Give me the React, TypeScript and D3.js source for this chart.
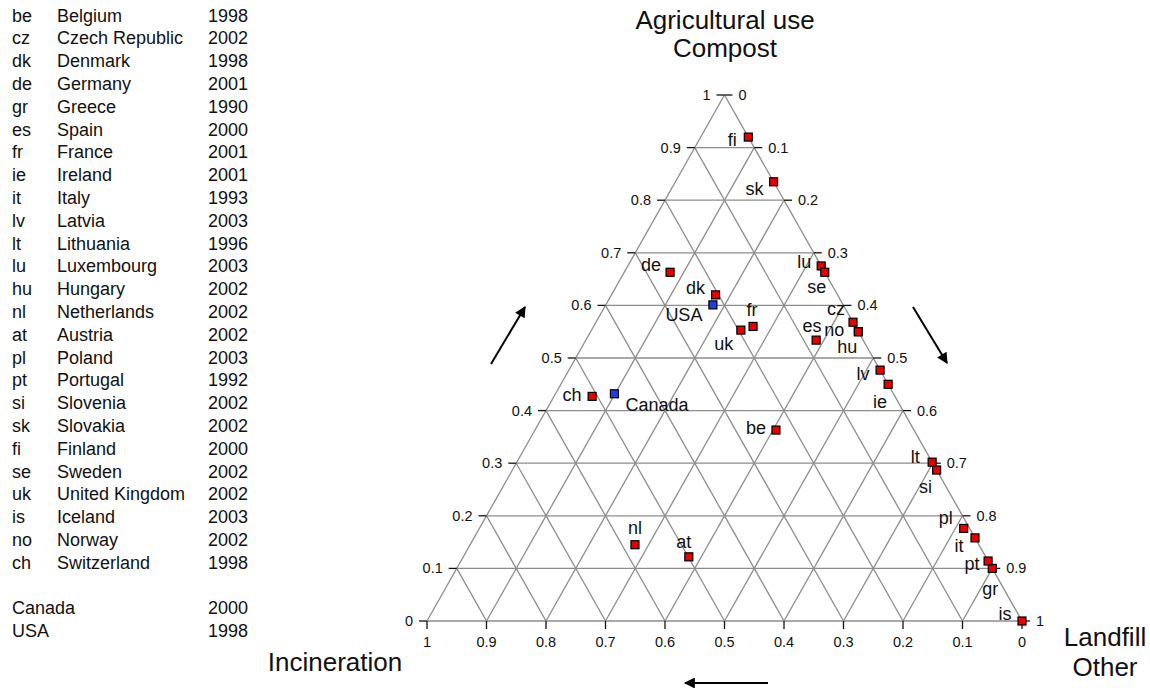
import React from 'react';
import * as d3 from 'd3';

// countries listed in the left table, same order as the reference
const codes = ['be', 'cz', 'dk', 'de', 'gr', 'es', 'fr', 'ie', 'it', 'lv', 'lt', 'lu', 'hu', 'nl', 'at', 'pl', 'pt', 'si', 'sk', 'fi', 'se', 'uk', 'is', 'no', 'ch'];
const names = ['Belgium', 'Czech Republic', 'Denmark', 'Germany', 'Greece', 'Spain', 'France', 'Ireland', 'Italy', 'Latvia', 'Lithuania', 'Luxembourg', 'Hungary', 'Netherlands', 'Austria', 'Poland', 'Portugal', 'Slovenia', 'Slovakia', 'Finland', 'Sweden', 'United Kingdom', 'Iceland', 'Norway', 'Switzerland'];
const years = [1998, 2002, 1998, 2001, 1990, 2000, 2001, 2001, 1993, 2003, 1996, 2003, 2002, 2002, 2002, 2003, 1992, 2002, 2002, 2000, 2002, 2002, 2003, 2002, 1998];

// shares: compost (top), landfill (right), incineration (left) = 1 - both
const compost = [0.363, 0.568, 0.62, 0.663, 0.1, 0.534, 0.56, 0.45, 0.158, 0.477, 0.302, 0.675, 0.55, 0.145, 0.122, 0.176, 0.114, 0.287, 0.835, 0.92, 0.663, 0.553, 0, 0.55, 0.427];
const landfill = [0.405, 0.432, 0.175, 0.077, 0.9, 0.387, 0.268, 0.55, 0.842, 0.523, 0.698, 0.325, 0.45, 0.277, 0.379, 0.814, 0.886, 0.713, 0.165, 0.08, 0.337, 0.251, 1, 0.45, 0.064];

const otherNames = ['Canada', 'USA'];
const otherYears = [2000, 1998];
const otherCompost = [0.432, 0.601];
const otherLandfill = [0.099, 0.18];

const tickValues = d3.range(0, 11).map(k => k / 10);

// label placement next to each square [dx, dy]
const labelPos: Record<string, number[]> = {
  be: [-20, 4], cz: [-17, -7], dk: [-20, -1], de: [-19, -1], gr: [-2, 27], es: [-4, -8],
  fr: [-1, -10], ie: [-8, 24], it: [-16, 14], lv: [-17, 10], lt: [-17, 1], lu: [-17, 2],
  hu: [-11, 21], nl: [0, -11], at: [-5, -9], pl: [-18, -4], pt: [-16, 9], si: [-11, 23],
  sk: [-19, 13], fi: [-16, 9], se: [-8, 21], uk: [-17, 20], is: [-17, -1], no: [-24, 4],
  ch: [-20, 5], USA: [-29, 16]
};

const font = '"Liberation Sans", Arial, Helvetica, sans-serif';

export default function App() {
  const width = 1150;
  const height = 688;

  // ternary projection through two linear scales
  const xScale = d3.scaleLinear().domain([0, 1]).range([427, 1022]);
  const yScale = d3.scaleLinear().domain([0, 1]).range([621, 95]);
  const px = (c: number, l: number) => xScale(l + c / 2);
  const py = (c: number) => yScale(c);

  const fmt = (v: number) => (v === 0 ? '0' : v === 1 ? '1' : d3.format('.1f')(v));
  const gridColor = '#8c8c8c';
  const tickFont = 14.5;

  const grid: JSX.Element[] = [];
  tickValues.forEach((k, idx) => {
    // constant compost
    grid.push(<line key={'c' + idx} x1={px(k, 0)} y1={py(k)} x2={px(k, 1 - k)} y2={py(k)} stroke={gridColor} strokeWidth={1.3} />);
    // constant landfill
    grid.push(<line key={'l' + idx} x1={px(0, k)} y1={py(0)} x2={px(1 - k, k)} y2={py(1 - k)} stroke={gridColor} strokeWidth={1.3} />);
    // constant incineration
    grid.push(<line key={'i' + idx} x1={px(0, 1 - k)} y1={py(0)} x2={px(1 - k, 0)} y2={py(1 - k)} stroke={gridColor} strokeWidth={1.3} />);
  });

  const ticks: JSX.Element[] = [];
  tickValues.forEach((k, idx) => {
    const lx = px(k, 0);
    const rx = px(k, 1 - k);
    const y = py(k);
    ticks.push(<line key={'lt' + idx} x1={lx - 8} x2={lx} y1={y} y2={y} stroke="#111" strokeWidth={1.3} />);
    ticks.push(<text key={'ll' + idx} x={lx - 14} y={y} dy="0.35em" textAnchor="end" fontSize={tickFont}>{fmt(k)}</text>);
    ticks.push(<line key={'rt' + idx} x1={rx} x2={rx + 8} y1={y} y2={y} stroke="#111" strokeWidth={1.3} />);
    ticks.push(<text key={'rl' + idx} x={rx + 14} y={y} dy="0.35em" textAnchor="start" fontSize={tickFont}>{fmt(1 - k)}</text>);
    const bx = px(0, k);
    ticks.push(<line key={'bt' + idx} x1={bx} x2={bx} y1={py(0)} y2={py(0) + 8} stroke="#111" strokeWidth={1.3} />);
    ticks.push(<text key={'bl' + idx} x={bx} y={py(0) + 26} textAnchor="middle" fontSize={tickFont}>{fmt(1 - k)}</text>);
  });

  const sq = 8;
  const rowY = d3.scaleLinear().domain([0, 1]).range([21.5, 21.5 + 22.8]);

  return (
    <svg width={width} height={height} style={{ position: 'absolute', left: 0, top: 0, background: '#fff' }} fontFamily={font}>
      <defs>
        <marker id="ah" viewBox="0 0 10 10" refX="9" refY="5" markerWidth="13" markerHeight="11" markerUnits="userSpaceOnUse" orient="auto">
          <path d="M0,0 L10,5 L0,10 z" fill="#000" />
        </marker>
      </defs>

      {/* table on the left */}
      <g fontSize={18} fill="#111">
        {codes.map((c, i) => (
          <g key={c}>
            <text x={12} y={rowY(i)}>{c}</text>
            <text x={57} y={rowY(i)}>{names[i]}</text>
            <text x={248} y={rowY(i)} textAnchor="end">{years[i]}</text>
          </g>
        ))}
        {otherNames.map((n, i) => (
          <g key={n}>
            <text x={12} y={rowY(codes.length + 1 + i)}>{n}</text>
            <text x={248} y={rowY(codes.length + 1 + i)} textAnchor="end">{otherYears[i]}</text>
          </g>
        ))}
      </g>

      {/* titles */}
      <g fontSize={26} fill="#111" textAnchor="middle">
        <text x={725} y={29}>Agricultural use</text>
        <text x={725} y={57}>Compost</text>
        <text x={335} y={671}>Incineration</text>
        <text x={1105} y={646}>Landfill</text>
        <text x={1105} y={676}>Other</text>
      </g>

      {grid}
      <g fill="#111">{ticks}</g>

      {/* direction arrows */}
      <line x1={491} y1={364} x2={525} y2={307} stroke="#000" strokeWidth={2} markerEnd="url(#ah)" />
      <line x1={913} y1={307} x2={947} y2={363} stroke="#000" strokeWidth={2} markerEnd="url(#ah)" />
      <line x1={768} y1={683} x2={685} y2={683} stroke="#000" strokeWidth={2} markerEnd="url(#ah)" />

      {/* country points */}
      {codes.map((c, i) => {
        const x = px(compost[i], landfill[i]);
        const y = py(compost[i]);
        const o = labelPos[c];
        return (
          <g key={'p' + c}>
            <rect x={x - sq / 2} y={y - sq / 2} width={sq} height={sq} fill="#e60000" stroke="#000" strokeWidth={1.2} />
            <text x={x + o[0]} y={y + o[1]} textAnchor="middle" fontSize={18} fill="#111">{c}</text>
          </g>
        );
      })}
      {otherNames.map((n, i) => {
        const x = px(otherCompost[i], otherLandfill[i]);
        const y = py(otherCompost[i]);
        return (
          <g key={'o' + n}>
            <rect x={x - sq / 2} y={y - sq / 2} width={sq} height={sq} fill="#1f3fe0" stroke="#000" strokeWidth={1.2} />
            {n === 'Canada'
              ? <text x={x + 11} y={y + 17} textAnchor="start" fontSize={18} fill="#111">{n}</text>
              : <text x={x + labelPos[n][0]} y={y + labelPos[n][1]} textAnchor="middle" fontSize={18} fill="#111">{n}</text>}
          </g>
        );
      })}
    </svg>
  );
}
